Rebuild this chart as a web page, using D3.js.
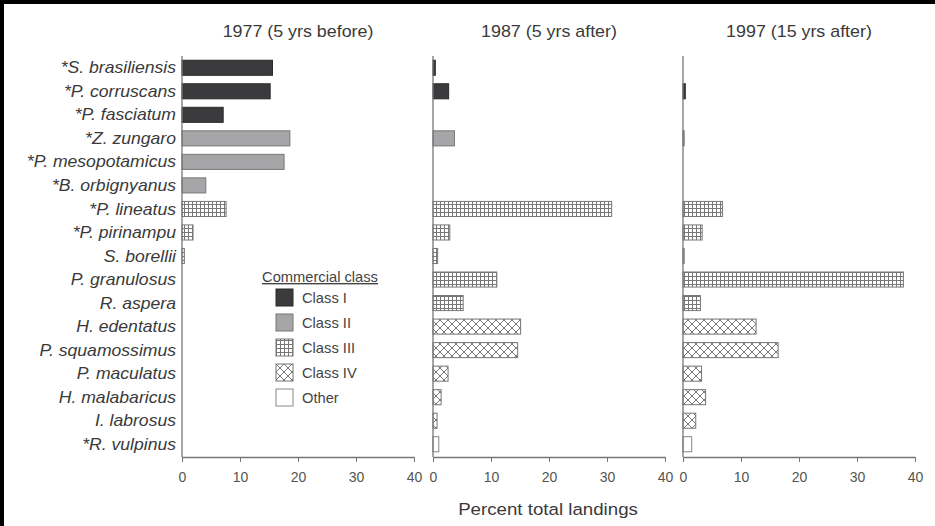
<!DOCTYPE html>
<html><head><meta charset="utf-8">
<script src="https://cdn.jsdelivr.net/npm/d3@7"></script>
<style>body{margin:0;background:#fff}svg{display:block}text{font-family:"Liberation Sans",Arial,sans-serif}</style>
</head><body>
<script>
const species = ["*S. brasiliensis","*P. corruscans","*P. fasciatum","*Z. zungaro","*P. mesopotamicus","*B. orbignyanus","*P. lineatus","*P. pirinampu","S. borellii","P. granulosus","R. aspera","H. edentatus","P. squamossimus","P. maculatus","H. malabaricus","I. labrosus","*R. vulpinus"];
const speciesClass = ["I","I","I","II","II","II","III","III","III","III","III","IV","IV","IV","IV","IV","Other"];
const panelTitles = ["1977 (5 yrs before)","1987 (5 yrs after)","1997 (15 yrs after)"];
const values1977 = [15.6,15.2,7.1,18.6,17.6,4.1,7.6,1.9,0.4,0,0,0,0,0,0,0,0];
const values1987 = [0.4,2.7,0,3.7,0,0,30.8,2.9,0.8,11.0,5.2,15.1,14.6,2.6,1.4,0.7,1.0];
const values1997 = [0,0.4,0,0.2,0,0,6.8,3.3,0.2,38.0,3.0,12.6,16.4,3.2,3.9,2.2,1.5];
const classes = ["I","II","III","IV","Other"];
const classLabels = ["Class I","Class II","Class III","Class IV","Other"];
const xTicks = [0,10,20,30,40];

const W=935,H=526;
const svg=d3.select("body").append("svg").attr("width",W).attr("height",H);
const defs=svg.append("defs");
const p3=defs.append("pattern").attr("id","grid").attr("patternUnits","userSpaceOnUse").attr("width",4).attr("height",4);
p3.append("rect").attr("width",4).attr("height",4).attr("fill","#fff");
p3.append("path").attr("d","M0.5,0V4M0,0.5H4").attr("stroke","#777").attr("stroke-width",1);
const p4=defs.append("pattern").attr("id","cross").attr("patternUnits","userSpaceOnUse").attr("width",8).attr("height",8);
p4.append("rect").attr("width",8).attr("height",8).attr("fill","#fff");
p4.append("path").attr("d","M0,0L8,8M8,0L0,8").attr("stroke","#777").attr("stroke-width",1);

const fillOf={I:"#3b3b3d",II:"#a6a6a8",III:"url(#grid)",IV:"url(#cross)",Other:"#fff"};
const strokeOf={I:"#2a2a2a",II:"#777",III:"#777",IV:"#777",Other:"#888"};

svg.append("rect").attr("x",0).attr("y",0).attr("width",W).attr("height",4).attr("fill","#000");
svg.append("rect").attr("x",0).attr("y",0).attr("width",4).attr("height",H).attr("fill","#000");

function stext(sel,x,y,sx){return sel.attr("transform",`translate(${x},${y}) scale(${sx},1)`);}

const y=d3.scaleBand().domain(species).range([56,456]).paddingInner(0.36).paddingOuter(0.18);
const panels=[{x0:182,vals:values1977},{x0:433,vals:values1987},{x0:683,vals:values1997}];
const axisY=457;

panels.forEach((p,i)=>{
  const x=d3.scaleLinear().domain([0,40]).range([p.x0,p.x0+232]);
  const g=svg.append("g");
  g.selectAll("rect.bar").data(species).join("rect").attr("class","bar")
    .attr("x",x(0)).attr("y",d=>y(d)).attr("height",y.bandwidth())
    .attr("width",(d,j)=>x(p.vals[j])-x(0))
    .attr("fill",(d,j)=>fillOf[speciesClass[j]])
    .attr("stroke",(d,j)=>strokeOf[speciesClass[j]]).attr("stroke-width",1)
    .attr("display",(d,j)=>p.vals[j]>0?null:"none");
  g.append("line").attr("x1",x(0)).attr("x2",x(0)).attr("y1",56).attr("y2",axisY).attr("stroke","#777").attr("stroke-width",1.3);
  const ax=g.append("g").attr("transform",`translate(0,${axisY})`)
    .call(d3.axisBottom(x).tickValues(xTicks).tickSize(5).tickPadding(10).tickSizeOuter(0));
  ax.select(".domain").attr("stroke","#777").attr("stroke-width",1.3);
  ax.selectAll(".tick line").attr("stroke","#777");
  ax.selectAll(".tick text").attr("fill","#555").style("font-size","14px").style("font-family","'Liberation Sans',Arial,sans-serif");
  stext(svg.append("text"),x(20),37,1.05).attr("text-anchor","middle")
    .attr("fill","#3a3a3a").style("font-size","17px").text(panelTitles[i]);
});

svg.append("g").selectAll("text").data(species).join("text")
  .attr("transform",d=>`translate(176,${y(d)+y.bandwidth()/2}) scale(1.1,1)`).attr("dy","0.35em")
  .attr("text-anchor","end").attr("fill","#3a3a3a").style("font-size","16px").style("font-style","italic")
  .text(d=>d);

stext(svg.append("text"),548,515,1.1).attr("text-anchor","middle").attr("fill","#3a3a3a")
  .style("font-size","17px").text("Percent total landings");

const lg=svg.append("g");
stext(lg.append("text"),320,282,1.05).attr("text-anchor","middle").attr("fill","#444")
  .style("font-size","14px").style("text-decoration","underline").text("Commercial class");
classes.forEach((c,i)=>{
  const yy=289+i*25;
  lg.append("rect").attr("x",276).attr("y",yy).attr("width",17).attr("height",17)
    .attr("fill",fillOf[c]).attr("stroke",strokeOf[c]);
  stext(lg.append("text"),302,yy+9,1.05).attr("dy","0.35em").attr("fill","#444")
    .style("font-size","14px").text(classLabels[i]);
});
</script>
</body></html>
